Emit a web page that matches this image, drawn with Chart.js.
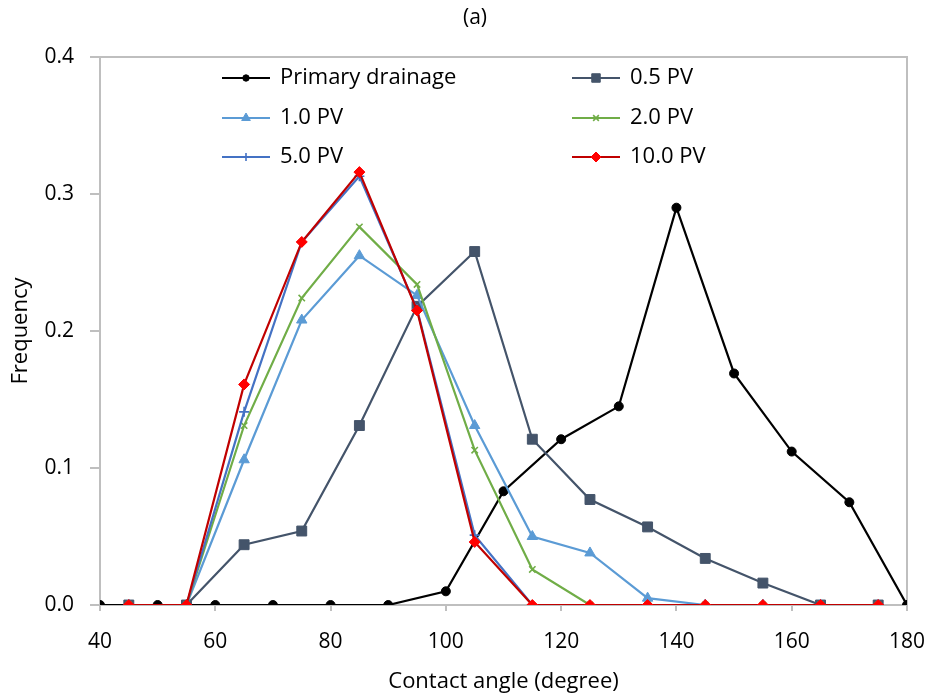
<!DOCTYPE html>
<html>
<head>
<meta charset="utf-8">
<script src="https://cdn.jsdelivr.net/npm/chart.js@4.4.1/dist/chart.umd.min.js"></script>
<style>
html,body{margin:0;padding:0;background:#fff;}
#wrap{width:931px;height:700px;position:relative;}
</style>
</head>
<body>
<div id="wrap"><canvas id="c" width="931" height="700"></canvas></div>
<script>
const chartTitle = "(a)";
const xTitle = "Contact angle (degree)";
const yTitle = "Frequency";
const seriesNames = ["Primary drainage", "0.5 PV", "1.0 PV", "2.0 PV", "5.0 PV", "10.0 PV"];

const anglesPrimary = [40, 50, 60, 70, 80, 90, 100, 110, 120, 130, 140, 150, 160, 170, 180];
const anglesPV = [45, 55, 65, 75, 85, 95, 105, 115, 125, 135, 145, 155, 165, 175];

const primaryDrainage = [0, 0, 0, 0, 0, 0, 0.010, 0.083, 0.121, 0.145, 0.290, 0.169, 0.112, 0.075, 0];
const pv05  = [0, 0, 0.044, 0.054, 0.131, 0.218, 0.258, 0.121, 0.077, 0.057, 0.034, 0.016, 0, 0];
const pv10  = [0, 0, 0.106, 0.208, 0.255, 0.226, 0.131, 0.050, 0.038, 0.005, 0, 0, 0, 0];
const pv20  = [0, 0, 0.131, 0.224, 0.276, 0.234, 0.113, 0.026, 0, 0, 0, 0, 0, 0];
const pv50  = [0, 0, 0.141, 0.265, 0.313, 0.216, 0.051, 0, 0, 0, 0, 0, 0, 0];
const pv100 = [0, 0, 0.161, 0.265, 0.316, 0.215, 0.046, 0, 0, 0, 0, 0, 0, 0];

const xTicks = [40, 60, 80, 100, 120, 140, 160, 180];
const yTicks = [0, 0.1, 0.2, 0.3, 0.4];

const FONT = "'Open Sans', 'Liberation Sans', sans-serif";
const GRID = '#BFBFBF';

function pts(xs, ys){ return xs.map((x,i)=>({x:x, y:ys[i]})); }

const styles = [
  {line:'#000000', fill:'#000000', style:'circle', r:4.5, lr:3.2, bw:1},
  {line:'#44546A', fill:'#44546A', style:'rect', r:7, lr:6, bw:1},
  {line:'#5B9BD5', fill:'#5B9BD5', style:'triangle', r:6, lr:5, bw:1},
  {line:'#70AD47', fill:'#70AD47', style:'crossRot', r:4.5, lr:4, bw:1.6},
  {line:'#4472C4', fill:'#4472C4', style:'cross', r:5, lr:4, bw:1.6},
  {line:'#C00000', fill:'#FF0000', style:'rectRot', r:5.5, lr:5, bw:1}
];
const seriesData = [pts(anglesPrimary, primaryDrainage), pts(anglesPV, pv05), pts(anglesPV, pv10), pts(anglesPV, pv20), pts(anglesPV, pv50), pts(anglesPV, pv100)];

const datasets = seriesNames.map((n,i)=>({
  label:n,
  data:seriesData[i],
  borderColor:styles[i].line,
  backgroundColor:styles[i].fill,
  borderWidth:2.2,
  pointStyle:styles[i].style,
  pointRadius:styles[i].r,
  pointBackgroundColor:styles[i].fill,
  pointBorderColor:styles[i].fill,
  pointBorderWidth:styles[i].bw,
  tension:0,
  order: seriesNames.length - i
}));

const frame = {
  id:'frame',
  beforeDatasetsDraw(chart){
    const a = chart.chartArea, ctx = chart.ctx;
    ctx.save();
    ctx.strokeStyle = GRID; ctx.lineWidth = 2;
    ctx.strokeRect(a.left, a.top, a.right-a.left, a.bottom-a.top);
    ctx.restore();
  },
  afterDraw(chart){
    const ctx = chart.ctx;
    ctx.save();
    ctx.fillStyle = '#000';
    ctx.font = "21px " + FONT;
    ctx.textAlign = 'center'; ctx.textBaseline = 'middle';
    ctx.fillText(chartTitle, 475, 18);
    // legend
    const a = chart.chartArea;
    const colX = [a.left + 122, a.left + 472];
    const rowY = [a.top + 21, a.top + 61, a.top + 100];
    chart.data.datasets.forEach((ds,i)=>{
      const x0 = colX[i%2], y = rowY[Math.floor(i/2)];
      ctx.strokeStyle = ds.borderColor; ctx.lineWidth = 2.2;
      ctx.beginPath(); ctx.moveTo(x0, y); ctx.lineTo(x0+48, y); ctx.stroke();
      ctx.fillStyle = ds.pointBackgroundColor; ctx.strokeStyle = ds.pointBorderColor;
      ctx.lineWidth = ds.pointBorderWidth;
      if (Chart.helpers && Chart.helpers.drawPoint) {
        Chart.helpers.drawPoint(ctx, {pointStyle:ds.pointStyle, radius:styles[i].lr, rotation:0, borderWidth:ds.pointBorderWidth}, x0+24, y);
      }
      ctx.fillStyle = '#000';
      ctx.font = "22px " + FONT;
      ctx.textAlign = 'left';
      ctx.fillText(ds.label, x0+58, y);
    });
    ctx.restore();
  }
};

new Chart(document.getElementById('c'), {
  type:'line',
  data:{datasets:datasets},
  options:{
    responsive:false,
    animation:false,
    layout:{padding:{top:57, right:24, bottom:0, left:0}},
    plugins:{legend:{display:false}, title:{display:false}, tooltip:{enabled:false}},
    scales:{
      x:{
        type:'linear', min:40, max:180,
        afterBuildTicks(s){ s.ticks = xTicks.map(v=>({value:v})); },
        afterFit(s){ s.height = 95; s.paddingLeft = 0; s.paddingRight = 0; },
        grid:{display:true, drawOnChartArea:false, drawTicks:true, tickLength:6, color:GRID, lineWidth:2},
        border:{display:true, color:GRID, width:2},
        ticks:{color:'#000', font:{size:21, family:FONT}, padding:18, maxRotation:0},
        title:{display:true, text:xTitle, color:'#000', font:{size:22, family:FONT}, padding:{top:0, bottom:5}}
      },
      y:{
        type:'linear', min:0, max:0.4,
        afterBuildTicks(s){ s.ticks = yTicks.map(v=>({value:v})); },
        afterFit(s){ s.width = 100; s.paddingTop = 0; s.paddingBottom = 0; },
        grid:{display:true, drawOnChartArea:false, drawTicks:true, tickLength:10, color:GRID, lineWidth:2},
        border:{display:true, color:GRID, width:2},
        ticks:{color:'#000', font:{size:21, family:FONT}, padding:16, callback:v=>Number(v).toFixed(1)},
        title:{display:true, text:yTitle, color:'#000', font:{size:22, family:FONT}, padding:{top:8, bottom:0}}
      }
    }
  },
  plugins:[frame]
});
</script>
</body>
</html>
